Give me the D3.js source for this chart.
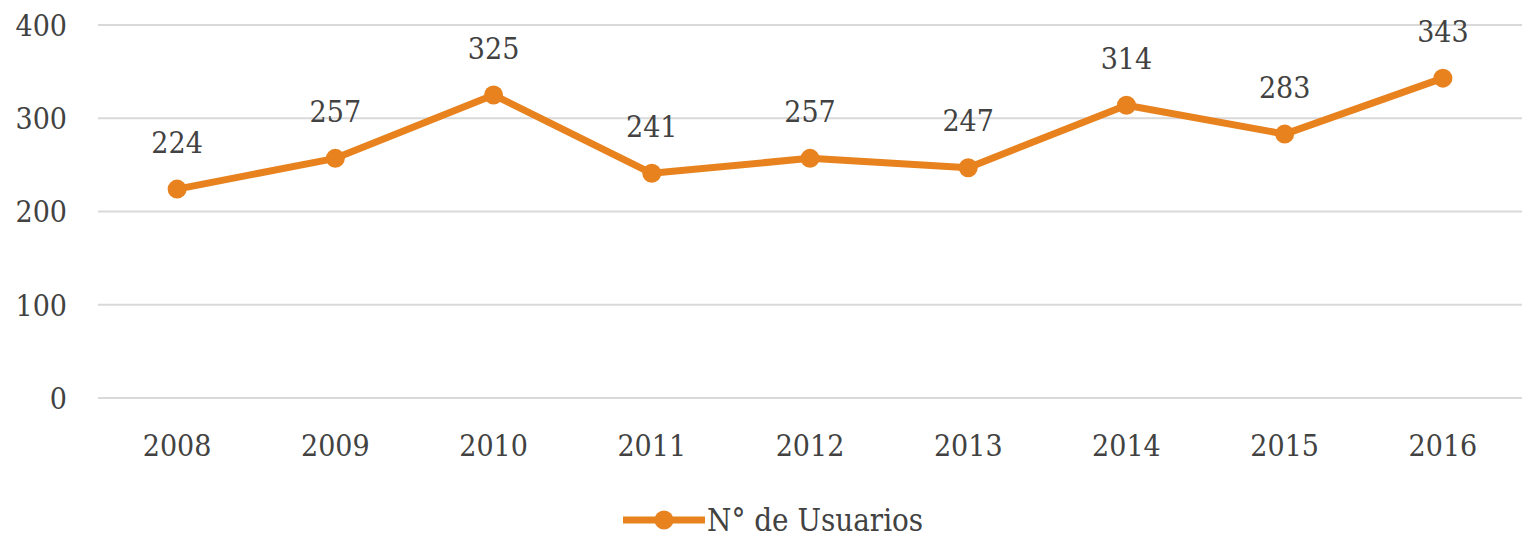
<!DOCTYPE html>
<html>
<head>
<meta charset="utf-8">
<script src="https://cdn.jsdelivr.net/npm/d3@7"></script>
<style>
  body { margin: 0; background: #fff; }
  text { font-family: "DejaVu Serif Condensed", "DejaVu Serif", serif; font-stretch: condensed; fill: #424242; }
</style>
</head>
<body>
<div id="chart"></div>
<script>
const years = ["2008", "2009", "2010", "2011", "2012", "2013", "2014", "2015", "2016"];
const usuarios = [224, 257, 325, 241, 257, 247, 314, 283, 343];
const yTicks = [0, 100, 200, 300, 400];
const seriesName = "N\u00b0 de Usuarios";

const SIZE = { width: 1522, height: 541 };
const MARGIN = { left: 98, right: 0, top: 25, bottom: 143 };
const COLOR = "#e8821e";

const svg = d3.select("#chart").append("svg")
  .attr("width", SIZE.width)
  .attr("height", SIZE.height);

const x = d3.scalePoint().domain(years)
  .range([MARGIN.left, SIZE.width - MARGIN.right]).padding(0.5);
const y = d3.scaleLinear().domain([0, 400])
  .range([SIZE.height - MARGIN.bottom, MARGIN.top]);

// gridlines
svg.append("g").selectAll("line").data(yTicks).join("line")
  .attr("x1", MARGIN.left).attr("x2", SIZE.width - MARGIN.right)
  .attr("y1", d => y(d)).attr("y2", d => y(d))
  .attr("stroke", "#d9d9d9").attr("stroke-width", 2);

// y labels
svg.append("g").selectAll("text").data(yTicks).join("text")
  .attr("x", 67).attr("y", d => y(d))
  .attr("dy", "0.36em")
  .attr("text-anchor", "end")
  .style("font-size", "30px")
  .text(d => d);

// x labels
svg.append("g").selectAll("text").data(years).join("text")
  .attr("x", d => x(d)).attr("y", 445)
  .attr("dy", "0.36em")
  .attr("text-anchor", "middle")
  .style("font-size", "30px")
  .text(d => d);

const pts = years.map((yr, i) => ({ yr, v: usuarios[i] }));

svg.append("path").datum(pts)
  .attr("fill", "none").attr("stroke", COLOR).attr("stroke-width", 7)
  .attr("stroke-linejoin", "round")
  .attr("d", d3.line().x(d => x(d.yr)).y(d => y(d.v)));

svg.append("g").selectAll("circle").data(pts).join("circle")
  .attr("cx", d => x(d.yr)).attr("cy", d => y(d.v)).attr("r", 9.5)
  .attr("fill", COLOR);

// data labels
svg.append("g").selectAll("text").data(pts).join("text")
  .attr("x", d => x(d.yr)).attr("y", d => y(d.v) - 47)
  .attr("dy", "0.36em")
  .attr("text-anchor", "middle")
  .style("font-size", "30px")
  .text(d => d.v);

// legend
const lg = svg.append("g").attr("transform", "translate(623,520)");
lg.append("line").attr("x1", 0).attr("x2", 82).attr("stroke", COLOR).attr("stroke-width", 7);
lg.append("circle").attr("cx", 41).attr("r", 9.5).attr("fill", COLOR);
lg.append("text").attr("x", 84).attr("dy", "0.36em")
  .style("font-size", "31px").text(seriesName);
</script>
</body>
</html>
